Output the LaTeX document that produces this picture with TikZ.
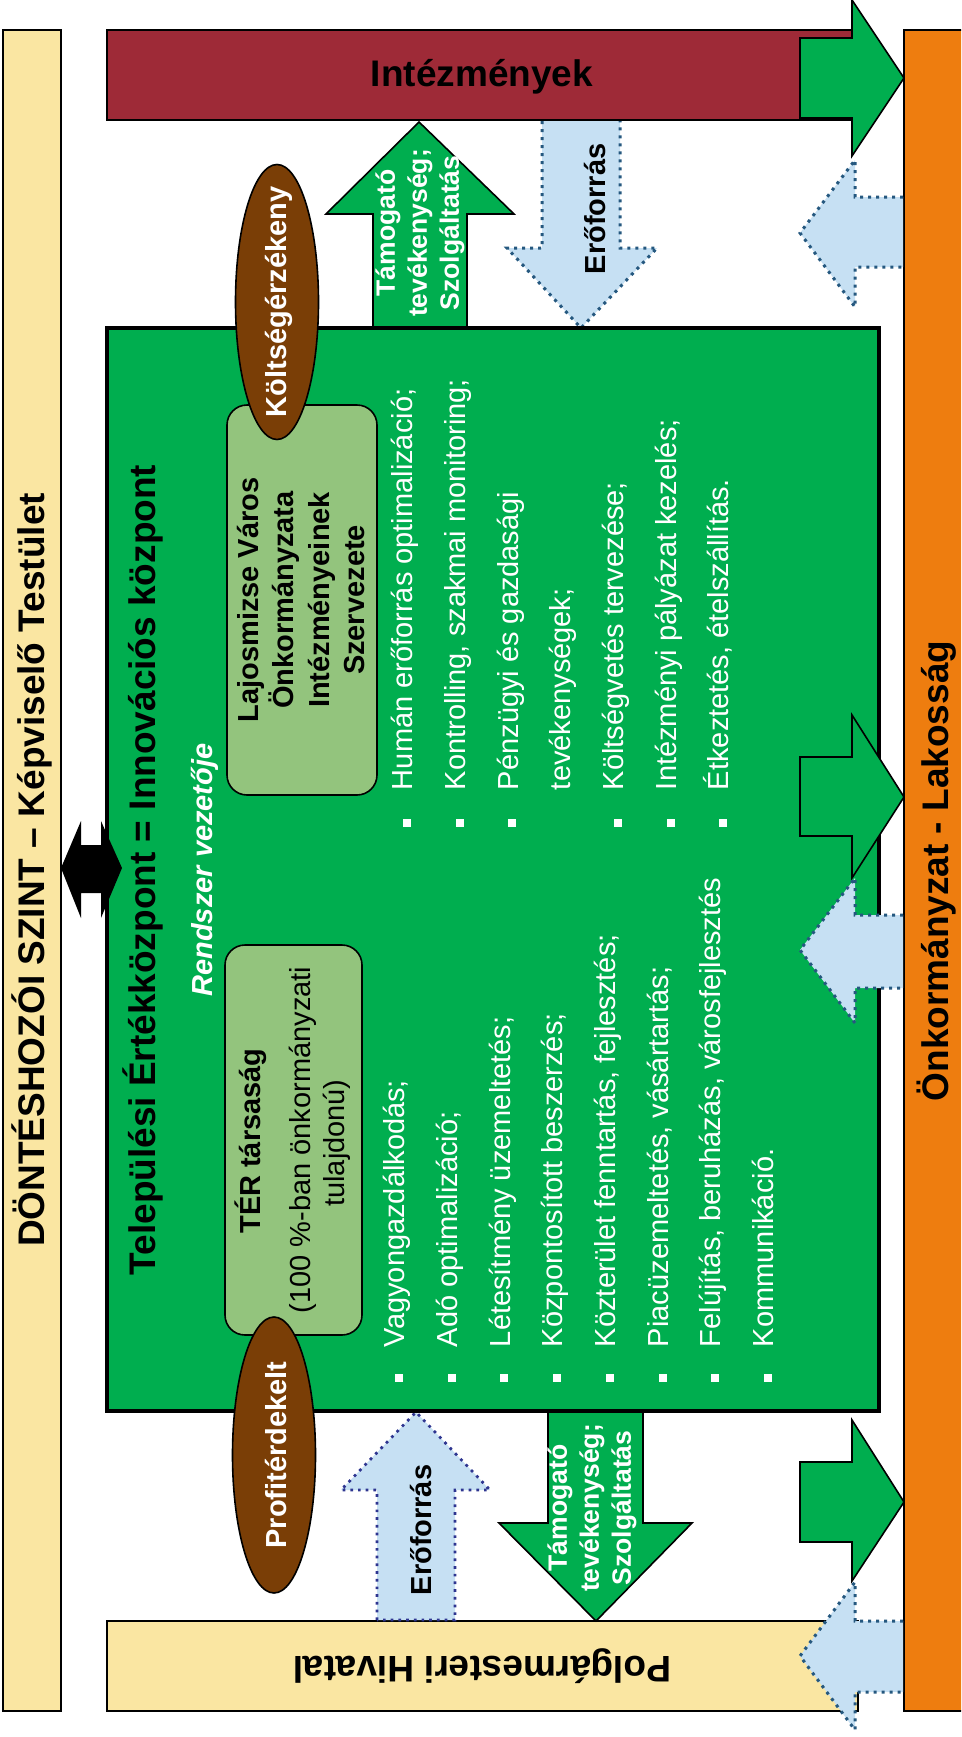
\documentclass[tikz,border=0pt]{standalone}
\usepackage{fontspec}
\setmainfont{Liberation Sans}
\usetikzlibrary{shapes.geometric}
\definecolor{pyellow}{HTML}{FAE6A2}
\definecolor{bred}{HTML}{9E2A37}
\definecolor{bgreen}{HTML}{00AE4F}
\definecolor{lgreen}{HTML}{93C47D}
\definecolor{brownc}{HTML}{7A3E06}
\definecolor{orangec}{HTML}{EE7D0F}
\definecolor{lblue}{HTML}{C6E0F3}
\definecolor{dblue}{HTML}{25587F}
\definecolor{navyd}{HTML}{2E3590}
\begin{document}
\begin{tikzpicture}[x=1pt,y=-1pt,
  bd/.style={draw=black,line width=1.6pt},
  garrow/.style={fill=bgreen,draw=black,line width=1.6pt,line join=miter},
  barrowA/.style={fill=lblue,draw=dblue,line width=3pt,dash pattern=on 3pt off 5pt},
  barrowB/.style={fill=lblue,draw=navyd,line width=2.7pt,dash pattern=on 2.7pt off 5pt},
  txt/.style={inner sep=0pt,outer sep=0pt},
  fbig/.style={font=\fontsize{37}{44}\selectfont\bfseries},
  fbody/.style={font=\fontsize{29}{35}\selectfont},
  fbold/.style={font=\fontsize{29}{35.5}\selectfont\bfseries},
  farr/.style={font=\fontsize{26.5}{32}\selectfont\bfseries},
  litem/.style={txt,fbody,text=white,rotate=90,anchor=mid west},
  bul/.style={fill=white}
  ]
\useasboundingbox (0,0) rectangle (961,1737);
\clip (0,0) rectangle (961,1737);
\fill[white] (0,0) rectangle (961,1737);
% side bars
\draw[bd,fill=pyellow] (3,30) rectangle (61,1711);
\draw[bd,fill=orangec] (990,30) -- (904,30) -- (904,1711) -- (990,1711);
% top and bottom bars
\draw[bd,fill=bred] (107,30) rectangle (852,120);
\draw[bd,fill=pyellow] (107,1621) rectangle (858,1711);
% arrows attached to the green box (below it)
\draw[garrow] (373,330) -- (373,214) -- (326,214) -- (419,122) -- (514,214) -- (467,214) -- (467,330);
\draw[garrow] (548,1409) -- (548,1523) -- (499,1523) -- (596,1621) -- (692,1523) -- (643,1523) -- (643,1409);
\filldraw[barrowA] (542,121) -- (542,248) -- (507,248) -- (581,328) -- (657,248) -- (620,248) -- (620,121);
\filldraw[barrowB] (377,1620) -- (377,1490) -- (341,1490) -- (416,1412) -- (490,1490) -- (455,1490) -- (455,1620) -- cycle;
% green box
\draw[fill=bgreen,draw=black,line width=4.5pt] (107,328) rectangle (879,1411);
% right pointing green arrows
\draw[garrow] (800,38) -- (852,38) -- (852,0) -- (904,78) -- (852,156) -- (852,118) -- (800,118) -- cycle;
\draw[garrow] (800,757) -- (852,757) -- (852,715) -- (904,797) -- (852,878) -- (852,836) -- (800,836) -- cycle;
\draw[garrow] (800,1462) -- (852,1462) -- (852,1420) -- (904,1502) -- (852,1581) -- (852,1542) -- (800,1542) -- cycle;
% left pointing blue arrows
\filldraw[barrowA] (903,197) -- (855,197) -- (855,160) -- (800,233) -- (855,307) -- (855,267) -- (903,267);
\filldraw[barrowA] (903,915) -- (855,915) -- (855,878) -- (800,950) -- (855,1023) -- (855,988) -- (903,988);
\filldraw[barrowA] (903,1621) -- (855,1621) -- (855,1582) -- (800,1656) -- (855,1730) -- (855,1692) -- (903,1692);
% rounded boxes
\draw[bd,fill=lgreen,rounded corners=20pt] (227,405) rectangle (377,795);
\draw[bd,fill=lgreen,rounded corners=20pt] (225,945) rectangle (362,1335);
% ellipses
\node[ellipse,draw=black,line width=1.6pt,fill=brownc,minimum width=83pt,minimum height=275pt,inner sep=0pt] (e1) at (277,302) {};
\node[ellipse,draw=black,line width=1.6pt,fill=brownc,minimum width=83pt,minimum height=276pt,inner sep=0pt] (e2) at (274,1455) {};
% double arrow
\fill[black] (61,868) -- (81,821) -- (81,845) -- (101,845) -- (101,821) -- (122,868) -- (101,918) -- (101,893) -- (81,893) -- (81,918) -- cycle;
% texts
\node[txt,fbig,rotate=90] (dont) at (32,870) {DÖNTÉSHOZÓI SZINT – Képviselő Testület};
\node[txt,fbig,rotate=90] (onk) at (937,871) {Önkormányzat - Lakosság};
\node[txt,fbig] (int) at (482,77) {Intézmények};
\node[txt,fbig,rotate=180] (polg) at (482,1666) {Polgármesteri Hivatal};
\node[txt,fbig,rotate=90] (title) at (143,870) {Települési Értékközpont = Innovációs központ};
\node[txt,fbold,text=white,rotate=90] (kt) at (279,302) {Költségérzékeny};
\node[txt,fbold,text=white,rotate=90] (pf) at (276,1455) {Profitérdekelt};
\node[txt,fbold,rotate=90] (ef1) at (595,209) {Erőforrás};
\node[txt,fbold,rotate=90] (ef2) at (421,1530) {Erőforrás};
\node[txt,farr,text=white,rotate=90,align=center] (tam1) at (420,233) {Támogató\\tevékenység;\\Szolgáltatás};
\node[txt,farr,text=white,rotate=90,align=center] (tam2) at (592,1508) {Támogató\\tevékenység;\\Szolgáltatás};
\node[txt,font=\fontsize{29}{35}\selectfont\bfseries\itshape,text=white,rotate=90] (rv) at (205,870) {Rendszer vezetője};
\node[txt,fbold,rotate=90,align=center] (laj) at (301,600) {Lajosmizse Város\\Önkormányzata\\Intézményeinek\\Szervezete};
\node[txt,fbold,rotate=90] (ter1) at (251,1141) {TÉR társaság};
\node[txt,fbody,rotate=90] (ter2) at (303,1140) {(100 \%-ban önkormányzati};
\node[txt,fbody,rotate=90] (ter3) at (337,1143) {tulajdonú)};
% right column
\node[litem] (r1) at (410,790) {Humán erőforrás optimalizáció;};
\node[litem] (r2) at (462.7,790) {Kontrolling, szakmai monitoring;};
\node[litem] (r3) at (515.4,790) {Pénzügyi és gazdasági};
\node[litem] (r4) at (568.1,790) {tevékenységek;};
\node[litem] (r5) at (620.8,790) {Költségvetés tervezése;};
\node[litem] (r6) at (673.5,790) {Intézményi pályázat kezelés;};
\node[litem] (r7) at (726.2,790) {Étkeztetés, ételszállítás.};
\foreach \bx in {407,459.7,512.4,617.8,670.5,723.2} {\fill[bul] (\bx-4,819) rectangle (\bx+4,827);}
% left column
\node[litem] (l1) at (402,1347) {Vagyongazdálkodás;};
\node[litem] (l2) at (454.7,1347) {Adó optimalizáció;};
\node[litem] (l3) at (507.4,1347) {Létesítmény üzemeltetés;};
\node[litem] (l4) at (560.1,1347) {Központosított beszerzés;};
\node[litem] (l5) at (612.8,1347) {Közterület fenntartás, fejlesztés;};
\node[litem] (l6) at (665.5,1347) {Piacüzemeltetés, vásártartás;};
\node[litem] (l7) at (718.2,1347) {Felújítás, beruházás, városfejlesztés};
\node[litem] (l8) at (770.9,1347) {Kommunikáció.};
\foreach \bx in {399,451.7,504.4,557.1,609.8,662.5,715.2,767.9} {\fill[bul] (\bx-4,1374) rectangle (\bx+4,1382);}
\end{tikzpicture}
\end{document}
